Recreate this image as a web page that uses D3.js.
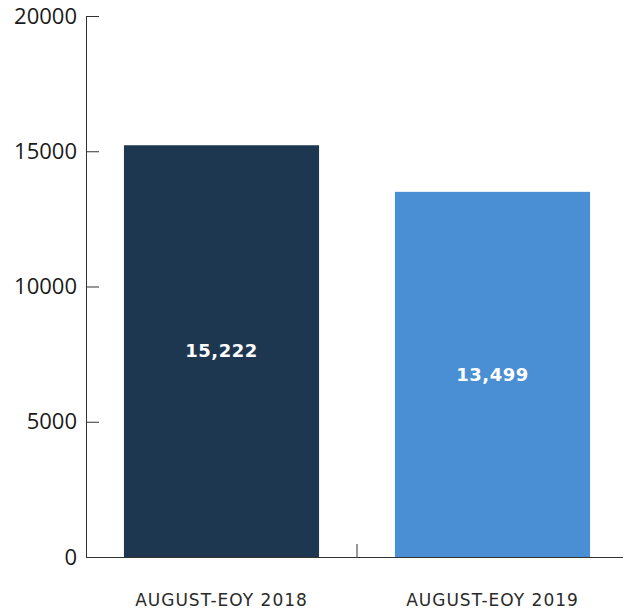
<!doctype html>
<html>
<head>
<meta charset="UTF-8" />
<script src="https://d3js.org/d3.v7.min.js"></script>
<style>
  body { margin: 0; background: #fff; }
  .y.axis text { font-family: "Open Sans", sans-serif; font-size: 22px; fill: #1a1a1a; }
  .x.axis text { font-family: "DejaVu Sans", sans-serif; font-size: 17px; fill: #2a2a2a; letter-spacing: 1px; }
  .axis path, .axis line { stroke: #333; stroke-width: 1; }
  .valueLabel { font-family: "DejaVu Sans", sans-serif; font-weight: bold; font-size: 18px; fill: #fff; letter-spacing: 0.5px; }
</style>
</head>
<body>
<svg id="chart" width="623" height="610"></svg>
<script>
  // chart data
  const categories = ["AUGUST-EOY 2018", "AUGUST-EOY 2019"];
  const values = [15222, 13499];
  const barColors = ["#1e3751", "#4a8fd3"];
  const yTicks = [0, 5000, 10000, 15000, 20000];

  (function () {
    const svg = d3.select("#chart");

    const plotLeft = 86, plotRight = 628, plotTop = 16, plotBottom = 557;

    // outer band = one slot per category, bars sit inside with some inset
    const x = d3.scaleBand()
      .domain(categories)
      .range([plotLeft, plotRight])
      .padding(0);

    const barWidth = x.step() * 0.72;

    const y = d3.scaleLinear()
      .domain([0, 20000])
      .range([plotBottom, plotTop]);

    // bars
    svg.selectAll(".bar")
      .data(values)
      .enter().append("rect")
      .attr("class", "bar")
      .attr("x", (d, i) => x(categories[i]) + (x.step() - barWidth) / 2)
      .attr("y", d => y(d))
      .attr("width", barWidth)
      .attr("height", d => y(0) - y(d))
      .attr("fill", (d, i) => barColors[i]);

    // value labels in middle of bar
    svg.selectAll(".valueLabel")
      .data(values)
      .enter().append("text")
      .attr("class", "valueLabel")
      .attr("x", (d, i) => x(categories[i]) + x.bandwidth() / 2)
      .attr("y", d => y(d / 2))
      .attr("dy", "0.35em")
      .attr("text-anchor", "middle")
      .text(d => d3.format(",")(d));

    // y axis, ticks point inward
    svg.append("g")
      .attr("class", "y axis")
      .attr("transform", "translate(" + plotLeft + ",0)")
      .call(d3.axisLeft(y).tickValues(yTicks).tickFormat(d3.format("d"))
        .tickSize(-13).tickSizeOuter(0).tickPadding(9));

    // x axis, no ticks at category centers
    const xAxis = svg.append("g")
      .attr("class", "x axis")
      .attr("transform", "translate(0," + plotBottom + ")")
      .call(d3.axisBottom(x).tickSize(0).tickSizeOuter(0).tickPadding(37));

    // separator ticks between categories
    xAxis.selectAll(".sep")
      .data(categories.slice(1))
      .enter().append("line")
      .attr("class", "sep")
      .attr("x1", d => x(d))
      .attr("x2", d => x(d))
      .attr("y1", 0)
      .attr("y2", -13);
  })();
</script>
</body>
</html>
